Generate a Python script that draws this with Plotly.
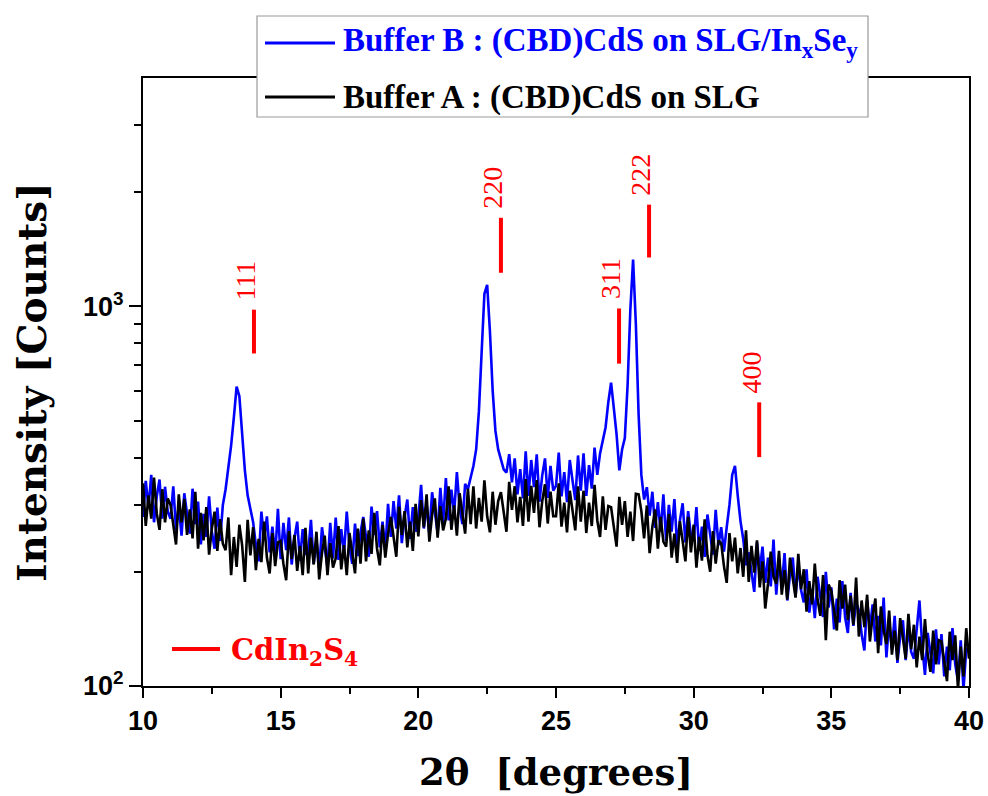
import numpy as np
import plotly.graph_objects as go

# ---------------- data ----------------
two_theta = np.round(10 + 0.1 * np.arange(301), 1)

# Buffer A : (CBD)CdS on SLG  (black)
intensity_a = [
    342, 264, 318, 276, 354, 285, 258, 330, 270, 312,  # 10
    300, 261, 236, 320, 270, 311, 250, 292, 245, 325,  # 11
    230, 286, 242, 296, 222, 260, 288, 227, 275, 237,  # 12
    228, 278, 196, 247, 206, 266, 235, 188, 274, 221,  # 13
    262, 202, 244, 212, 271, 218, 198, 253, 207, 239,  # 14
    241, 210, 190, 256, 216, 250, 201, 234, 196, 261,  # 15
    198, 246, 209, 255, 191, 224, 249, 196, 238, 205,  # 16
    217, 264, 203, 235, 196, 253, 223, 198, 260, 210,  # 17
    276, 213, 257, 223, 286, 230, 208, 266, 218, 252,  # 18
    279, 243, 219, 297, 250, 289, 232, 271, 227, 302,  # 19
    248, 309, 262, 320, 240, 282, 312, 246, 298, 257,  # 20
    276, 336, 258, 299, 249, 322, 284, 252, 331, 267,  # 21
    336, 260, 313, 271, 348, 280, 254, 325, 266, 307,  # 22
    324, 282, 255, 345, 291, 336, 270, 315, 264, 351,  # 23
    271, 337, 286, 349, 262, 307, 340, 268, 325, 280,  # 24
    280, 342, 263, 304, 254, 327, 289, 257, 336, 271,  # 25
    327, 253, 304, 264, 339, 273, 247, 316, 258, 298,  # 26
    296, 258, 233, 315, 266, 307, 247, 288, 241, 321,  # 27
    320, 289, 245, 299, 224, 263, 292, 230, 279, 240,  # 28
    233, 284, 218, 252, 211, 272, 240, 213, 279, 225,  # 29
    266, 205, 247, 214, 275, 221, 200, 256, 210, 242,  # 30
    238, 207, 187, 253, 213, 246, 198, 231, 194, 257,  # 31
    188, 234, 199, 242, 182, 213, 160, 186, 226, 194,  # 32
    186, 227, 174, 202, 169, 218, 192, 171, 223, 180,  # 33
    203, 157, 189, 164, 210, 169, 153, 196, 132, 185,  # 34
    178, 155, 140, 190, 160, 185, 149, 173, 145, 193,  # 35
    135, 168, 143, 174, 131, 153, 170, 122, 162, 140,  # 36
    129, 158, 121, 140, 117, 151, 133, 118, 155, 125,  # 37
    145, 112, 135, 117, 150, 121, 109, 140, 114, 132,  # 38
    131, 114, 103, 139, 117, 136, 98, 127, 106, 142,   # 39
    118,                                               # 40
]

# Buffer B : (CBD)CdS on SLG/InxSey  (blue)
intensity_b = [
    279, 347, 295, 360, 270, 316, 350, 276, 335, 288,  # 10
    276, 336, 258, 299, 249, 322, 284, 252, 331, 267,  # 11
    306, 236, 284, 247, 316, 255, 230, 295, 241, 300,  # 12
    330, 372, 430, 510, 615, 580, 470, 370, 318, 290,  # 13
    270, 235, 213, 288, 243, 280, 225, 263, 220, 293,  # 14
    216, 269, 228, 278, 209, 245, 271, 214, 259, 223,  # 15
    224, 274, 210, 243, 203, 262, 231, 205, 269, 217,  # 16
    278, 215, 259, 224, 288, 232, 210, 268, 220, 254,  # 17
    279, 243, 219, 297, 250, 289, 232, 271, 227, 302,  # 18
    247, 307, 260, 318, 238, 279, 310, 244, 296, 255,  # 19
    277, 339, 260, 301, 251, 324, 286, 254, 333, 269,  # 20
    353, 273, 329, 285, 366, 295, 267, 341, 330, 355,  # 21
    380, 420, 530, 760, 1080, 1140, 860, 600, 470, 420,  # 22
    398, 372, 365, 408, 344, 398, 320, 373, 312, 415,  # 23
    317, 394, 334, 408, 306, 359, 398, 313, 380, 327,  # 24
    337, 412, 316, 366, 305, 394, 348, 309, 405, 327,  # 25
    410, 317, 382, 331, 425, 360, 410, 440, 480, 560,  # 26
    630, 540, 460, 370, 420, 450, 620, 980, 1330, 900,  # 27
    520, 360, 310, 334, 281, 325, 261, 305, 255, 320,  # 28
    241, 300, 255, 311, 233, 273, 303, 239, 289, 249,  # 29
    242, 296, 227, 263, 219, 283, 250, 222, 291, 235,  # 30
    262, 226, 262, 300, 360, 380, 318, 272, 244, 208,  # 31
    225, 196, 177, 239, 202, 233, 187, 218, 183, 243,  # 32
    174, 216, 183, 224, 168, 197, 218, 172, 208, 179,  # 33
    166, 203, 156, 180, 151, 194, 172, 152, 200, 161,  # 34
    182, 141, 170, 147, 189, 152, 138, 176, 144, 166,  # 35
    158, 137, 124, 168, 142, 164, 131, 153, 128, 171,  # 36
    119, 148, 125, 153, 115, 135, 149, 117, 143, 123,  # 37
    118, 144, 168, 128, 107, 138, 122, 108, 141, 114,  # 38
    137, 106, 127, 110, 142, 114, 103, 132, 98, 125,   # 39
    126,                                               # 40
]

# CdIn2S4 reference reflections
peak_labels = ["111", "220", "311", "222", "400"]
peak_positions = [14.03, 23.0, 27.29, 28.38, 32.38]
peak_mark_low = [752, 1227, 707, 1346, 401]
peak_mark_high = [981, 1713, 988, 1855, 559]

y_tick_vals = [100, 1000]
y_tick_text = ["10<sup>2</sup>", "10<sup>3</sup>"]
y_minor_vals = [200, 300, 400, 500, 600, 700, 800, 900, 2000, 3000]

name_b = "Buffer B : (CBD)CdS on SLG/In<sub>x</sub>Se<sub>y</sub>"
name_a = "Buffer A : (CBD)CdS on SLG"
ref_name = "CdIn<sub>2</sub>S<sub>4</sub>"

# ---------------- figure ----------------
BLUE = "#0000FF"
BLACK = "#000000"
RED = "#FF0000"

fig = go.Figure()
fig.add_trace(go.Scatter(x=two_theta, y=intensity_b, mode="lines", name=name_b,
                         line=dict(color=BLUE, width=2.6)))
fig.add_trace(go.Scatter(x=two_theta, y=intensity_a, mode="lines", name=name_a,
                         line=dict(color=BLACK, width=2.6)))

# peak marker bars
mx, my = [], []
for p, lo, hi in zip(peak_positions, peak_mark_low, peak_mark_high):
    mx += [p, p, None]
    my += [lo, hi, None]
fig.add_trace(go.Scatter(x=mx, y=my, mode="lines", name="CdIn2S4",
                         line=dict(color=RED, width=4), showlegend=False,
                         hoverinfo="skip"))

annotations = []
for lab, p, hi in zip(peak_labels, peak_positions, peak_mark_high):
    annotations.append(dict(x=p, y=np.log10(hi), xref="x", yref="y", text=lab,
                            showarrow=False, textangle=-90, xanchor="center",
                            yanchor="bottom", xshift=-8, yshift=7,
                            font=dict(family="Liberation Serif", size=28, color=RED)))

# plot area geometry (px) for paper coords
L, R, T, B = 143, 969, 78, 686
W, H = R - L, B - T


def px(xp):
    return (xp - L) / W


def py(yp):
    return (B - yp) / H


shapes = [
    # legend box
    dict(type="rect", xref="paper", yref="paper", x0=px(257), x1=px(868),
         y0=py(117), y1=py(16), fillcolor="white",
         line=dict(color="#9a9a9a", width=1.2), layer="above"),
    dict(type="line", xref="paper", yref="paper", x0=px(265), x1=px(335),
         y0=py(43), y1=py(43), line=dict(color=BLUE, width=3), layer="above"),
    dict(type="line", xref="paper", yref="paper", x0=px(265), x1=px(335),
         y0=py(97), y1=py(97), line=dict(color=BLACK, width=3), layer="above"),
    # reference key
    dict(type="line", xref="paper", yref="paper", x0=px(172), x1=px(220),
         y0=py(649), y1=py(649), line=dict(color=RED, width=4), layer="above"),
]

annotations += [
    dict(x=px(341), y=py(43), xref="paper", yref="paper", text=name_b,
         showarrow=False, xanchor="left", yanchor="middle",
         font=dict(family="Liberation Serif", size=33, color=BLUE, weight="bold")),
    dict(x=px(341), y=py(97), xref="paper", yref="paper", text=name_a,
         showarrow=False, xanchor="left", yanchor="middle",
         font=dict(family="Liberation Serif", size=33, color=BLACK, weight="bold")),
    dict(x=px(229), y=py(652), xref="paper", yref="paper", text=ref_name,
         showarrow=False, xanchor="left", yanchor="middle",
         font=dict(family="DejaVu Serif", size=29, color=RED, weight="bold")),
]

fig.update_layout(
    width=988, height=796,
    margin=dict(l=L, r=988 - R, t=T, b=796 - B),
    paper_bgcolor="white", plot_bgcolor="white",
    showlegend=False,
    shapes=shapes,
    annotations=annotations,
)

fig.update_xaxes(
    range=[10, 40], dtick=5, tick0=10, automargin=False,
    showline=True, linecolor="black", linewidth=2, mirror=True,
    ticks="outside", ticklen=10, tickwidth=2, tickcolor="black",
    minor=dict(dtick=2.5, tick0=10, ticks="outside", ticklen=6, tickwidth=1.5,
               tickcolor="black"),
    showgrid=False, zeroline=False,
    tickfont=dict(family="Liberation Sans", size=27, color="black", weight="bold"),
    title=dict(text="2θ\u00a0 [degrees]", standoff=24,
               font=dict(family="DejaVu Serif", size=37, color="black", weight="bold")),
)

fig.update_yaxes(
    type="log", range=[2, np.log10(4000)], automargin=False,
    tickmode="array", tickvals=y_tick_vals, ticktext=y_tick_text,
    showline=True, linecolor="black", linewidth=2, mirror=True,
    ticks="outside", ticklen=12, tickwidth=2, tickcolor="black",
    minor=dict(tickmode="array", tickvals=y_minor_vals, ticks="outside",
               ticklen=7, tickwidth=1.5, tickcolor="black"),
    showgrid=False, zeroline=False,
    tickfont=dict(family="Liberation Sans", size=27, color="black", weight="bold"),
    title=dict(text="Intensity [Counts]", standoff=24,
               font=dict(family="DejaVu Serif", size=39, color="black", weight="bold")),
)

fig.write_html("out.html", config={"displayModeBar": False},
               post_script="document.body.style.margin='0';")
